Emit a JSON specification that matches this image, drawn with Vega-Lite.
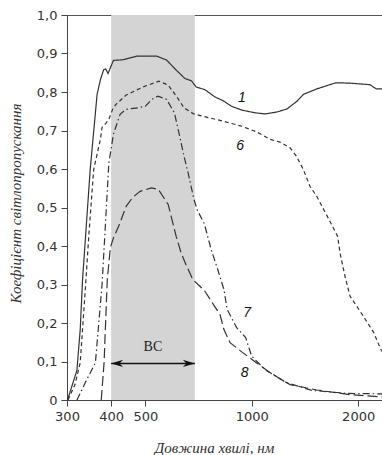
{
  "$schema": "https://vega.github.io/schema/vega-lite/v6.json",
  "autosize": {"type": "none"},
  "padding": {"left": 67, "top": 15, "right": 0, "bottom": 55},
  "width": 315,
  "height": 385,
  "background": "#ffffff",
  "config": {
    "view": {"stroke": "#555555", "strokeWidth": 1},
    "axis": {"grid": false, "labelOverlap": false, "labelFlush": false, "labelBound": false, "domainColor": "#444444", "tickColor": "#444444", "labelColor": "#333333", "labelFont": "DejaVu Sans", "labelFontSize": 13, "tickSize": 6, "titleFont": "Liberation Serif", "titleFontStyle": "italic", "titleFontWeight": "normal", "titleFontSize": 15, "titleColor": "#333333"}
  },
  "datasets": {
    "curves": [
      {"nm": 301, "t": 0.0, "curve": "1"},
      {"nm": 320, "t": 0.077, "curve": "1"},
      {"nm": 327, "t": 0.183, "curve": "1"},
      {"nm": 332, "t": 0.313, "curve": "1"},
      {"nm": 349, "t": 0.599, "curve": "1"},
      {"nm": 365, "t": 0.794, "curve": "1"},
      {"nm": 373, "t": 0.832, "curve": "1"},
      {"nm": 381, "t": 0.858, "curve": "1"},
      {"nm": 386, "t": 0.860, "curve": "1"},
      {"nm": 392, "t": 0.848, "curve": "1"},
      {"nm": 398, "t": 0.863, "curve": "1"},
      {"nm": 406, "t": 0.882, "curve": "1"},
      {"nm": 434, "t": 0.884, "curve": "1"},
      {"nm": 472, "t": 0.893, "curve": "1"},
      {"nm": 539, "t": 0.893, "curve": "1"},
      {"nm": 574, "t": 0.883, "curve": "1"},
      {"nm": 611, "t": 0.857, "curve": "1"},
      {"nm": 647, "t": 0.835, "curve": "1"},
      {"nm": 675, "t": 0.829, "curve": "1"},
      {"nm": 696, "t": 0.813, "curve": "1"},
      {"nm": 737, "t": 0.806, "curve": "1"},
      {"nm": 787, "t": 0.787, "curve": "1"},
      {"nm": 831, "t": 0.777, "curve": "1"},
      {"nm": 876, "t": 0.763, "curve": "1"},
      {"nm": 937, "t": 0.753, "curve": "1"},
      {"nm": 1021, "t": 0.746, "curve": "1"},
      {"nm": 1090, "t": 0.743, "curve": "1"},
      {"nm": 1178, "t": 0.748, "curve": "1"},
      {"nm": 1258, "t": 0.756, "curve": "1"},
      {"nm": 1342, "t": 0.776, "curve": "1"},
      {"nm": 1401, "t": 0.794, "curve": "1"},
      {"nm": 1527, "t": 0.808, "curve": "1"},
      {"nm": 1730, "t": 0.824, "curve": "1"},
      {"nm": 1896, "t": 0.823, "curve": "1"},
      {"nm": 2160, "t": 0.819, "curve": "1"},
      {"nm": 2250, "t": 0.808, "curve": "1"},
      {"nm": 2336, "t": 0.808, "curve": "1"},

      {"nm": 302, "t": 0.0, "curve": "6"},
      {"nm": 316, "t": 0.04, "curve": "6"},
      {"nm": 327, "t": 0.097, "curve": "6"},
      {"nm": 338, "t": 0.287, "curve": "6"},
      {"nm": 346, "t": 0.43, "curve": "6"},
      {"nm": 357, "t": 0.599, "curve": "6"},
      {"nm": 373, "t": 0.677, "curve": "6"},
      {"nm": 377, "t": 0.708, "curve": "6"},
      {"nm": 386, "t": 0.718, "curve": "6"},
      {"nm": 394, "t": 0.729, "curve": "6"},
      {"nm": 405, "t": 0.758, "curve": "6"},
      {"nm": 413, "t": 0.768, "curve": "6"},
      {"nm": 441, "t": 0.792, "curve": "6"},
      {"nm": 492, "t": 0.813, "curve": "6"},
      {"nm": 546, "t": 0.828, "curve": "6"},
      {"nm": 580, "t": 0.818, "curve": "6"},
      {"nm": 614, "t": 0.787, "curve": "6"},
      {"nm": 643, "t": 0.759, "curve": "6"},
      {"nm": 685, "t": 0.743, "curve": "6"},
      {"nm": 735, "t": 0.736, "curve": "6"},
      {"nm": 831, "t": 0.724, "curve": "6"},
      {"nm": 937, "t": 0.711, "curve": "6"},
      {"nm": 1034, "t": 0.696, "curve": "6"},
      {"nm": 1126, "t": 0.677, "curve": "6"},
      {"nm": 1202, "t": 0.670, "curve": "6"},
      {"nm": 1283, "t": 0.655, "curve": "6"},
      {"nm": 1338, "t": 0.633, "curve": "6"},
      {"nm": 1399, "t": 0.599, "curve": "6"},
      {"nm": 1461, "t": 0.555, "curve": "6"},
      {"nm": 1527, "t": 0.529, "curve": "6"},
      {"nm": 1636, "t": 0.477, "curve": "6"},
      {"nm": 1750, "t": 0.425, "curve": "6"},
      {"nm": 1777, "t": 0.382, "curve": "6"},
      {"nm": 1835, "t": 0.322, "curve": "6"},
      {"nm": 1896, "t": 0.270, "curve": "6"},
      {"nm": 2067, "t": 0.218, "curve": "6"},
      {"nm": 2214, "t": 0.175, "curve": "6"},
      {"nm": 2306, "t": 0.136, "curve": "6"},
      {"nm": 2336, "t": 0.126, "curve": "6"},

      {"nm": 320, "t": 0.0, "curve": "7"},
      {"nm": 340, "t": 0.05, "curve": "7"},
      {"nm": 361, "t": 0.097, "curve": "7"},
      {"nm": 377, "t": 0.30, "curve": "7"},
      {"nm": 394, "t": 0.615, "curve": "7"},
      {"nm": 406, "t": 0.690, "curve": "7"},
      {"nm": 413, "t": 0.711, "curve": "7"},
      {"nm": 424, "t": 0.742, "curve": "7"},
      {"nm": 441, "t": 0.755, "curve": "7"},
      {"nm": 476, "t": 0.759, "curve": "7"},
      {"nm": 500, "t": 0.763, "curve": "7"},
      {"nm": 522, "t": 0.781, "curve": "7"},
      {"nm": 542, "t": 0.789, "curve": "7"},
      {"nm": 574, "t": 0.781, "curve": "7"},
      {"nm": 604, "t": 0.746, "curve": "7"},
      {"nm": 622, "t": 0.694, "curve": "7"},
      {"nm": 643, "t": 0.633, "curve": "7"},
      {"nm": 662, "t": 0.586, "curve": "7"},
      {"nm": 686, "t": 0.521, "curve": "7"},
      {"nm": 702, "t": 0.492, "curve": "7"},
      {"nm": 734, "t": 0.458, "curve": "7"},
      {"nm": 768, "t": 0.390, "curve": "7"},
      {"nm": 801, "t": 0.339, "curve": "7"},
      {"nm": 834, "t": 0.287, "curve": "7"},
      {"nm": 852, "t": 0.235, "curve": "7"},
      {"nm": 906, "t": 0.188, "curve": "7"},
      {"nm": 961, "t": 0.162, "curve": "7"},
      {"nm": 999, "t": 0.114, "curve": "7"},
      {"nm": 1090, "t": 0.079, "curve": "7"},
      {"nm": 1253, "t": 0.045, "curve": "7"},
      {"nm": 1480, "t": 0.025, "curve": "7"},
      {"nm": 1862, "t": 0.017, "curve": "7"},
      {"nm": 2336, "t": 0.016, "curve": "7"},

      {"nm": 375, "t": 0.0, "curve": "8"},
      {"nm": 382, "t": 0.097, "curve": "8"},
      {"nm": 390, "t": 0.313, "curve": "8"},
      {"nm": 398, "t": 0.396, "curve": "8"},
      {"nm": 406, "t": 0.421, "curve": "8"},
      {"nm": 420, "t": 0.451, "curve": "8"},
      {"nm": 441, "t": 0.503, "curve": "8"},
      {"nm": 460, "t": 0.526, "curve": "8"},
      {"nm": 483, "t": 0.542, "curve": "8"},
      {"nm": 520, "t": 0.551, "curve": "8"},
      {"nm": 544, "t": 0.547, "curve": "8"},
      {"nm": 580, "t": 0.508, "curve": "8"},
      {"nm": 611, "t": 0.425, "curve": "8"},
      {"nm": 631, "t": 0.382, "curve": "8"},
      {"nm": 651, "t": 0.352, "curve": "8"},
      {"nm": 681, "t": 0.313, "curve": "8"},
      {"nm": 735, "t": 0.284, "curve": "8"},
      {"nm": 784, "t": 0.244, "curve": "8"},
      {"nm": 813, "t": 0.222, "curve": "8"},
      {"nm": 834, "t": 0.183, "curve": "8"},
      {"nm": 868, "t": 0.149, "curve": "8"},
      {"nm": 937, "t": 0.125, "curve": "8"},
      {"nm": 1030, "t": 0.097, "curve": "8"},
      {"nm": 1126, "t": 0.071, "curve": "8"},
      {"nm": 1283, "t": 0.040, "curve": "8"},
      {"nm": 1527, "t": 0.026, "curve": "8"},
      {"nm": 1896, "t": 0.014, "curve": "8"},
      {"nm": 2336, "t": 0.008, "curve": "8"}
    ]
  },
  "encoding": {
    "x": {"field": "nm", "type": "quantitative", "scale": {"type": "log", "domain": [300, 2336], "nice": false}, "axis": {"values": [300, 400, 500, 1000, 2000], "format": "d", "labelPadding": 4, "labelOverlap": false, "labelFlush": false, "title": "Довжина хвилі, нм", "titleX": 147, "titleY": 47, "titleBaseline": "middle", "titleAlign": "center"}},
    "y": {"field": "t", "type": "quantitative", "scale": {"domain": [0, 1], "nice": false}, "axis": {"values": [0, 0.1, 0.2, 0.3, 0.4, 0.5, 0.6, 0.7, 0.8, 0.9, 1.0], "labelExpr": "datum.value == 0 ? '0' : replace(format(datum.value, '.1f'), '.', ',')", "labelPadding": 4, "labelOverlap": false, "labelFlush": false, "labelBound": false, "labelSeparation": 0, "title": "Коефіцієнт світлопропускання", "titleX": -52, "titleY": 188, "titleAngle": 270, "titleBaseline": "middle", "titleAlign": "center"}}
  },
  "layer": [
    {
      "data": {"values": [{"nm": 400, "nm2": 690, "t": 0, "t2": 1}]},
      "mark": {"type": "rect", "color": "#d4d4d4"},
      "encoding": {
        "x2": {"field": "nm2"},
        "y2": {"field": "t2"}
      }
    },
    {
      "data": {"name": "curves"},
      "mark": {"type": "line", "color": "#333333", "strokeWidth": 1.2},
      "encoding": {
        "strokeDash": {"field": "curve", "type": "nominal", "scale": {"domain": ["1", "6", "7", "8"], "range": [[1, 0], [4, 3], [7, 3, 1.5, 3], [10, 4]]}, "legend": null},
        "detail": {"field": "curve"}
      }
    },
    {
      "data": {"values": [{"nm": 400, "nm2": 690, "t": 0.095}]},
      "mark": {"type": "rule", "color": "#111111", "strokeWidth": 1.5},
      "encoding": {
        "x2": {"field": "nm2"}
      }
    },
    {
      "data": {"values": [{"nm": 400, "t": 0.095, "dir": "L"}, {"nm": 690, "t": 0.095, "dir": "R"}]},
      "mark": {"type": "point", "filled": true, "color": "#111111", "opacity": 1, "size": 144},
      "encoding": {
        "shape": {"field": "dir", "type": "nominal", "scale": {"domain": ["L", "R"], "range": ["M0,0L2,-0.6L1.4,0L2,0.6Z", "M0,0L-2,-0.6L-1.4,0L-2,0.6Z"]}, "legend": null}
      }
    },
    {
      "data": {"values": [{"nm": 525, "t": 0.138, "label": "ВС"}]},
      "mark": {"type": "text", "font": "Liberation Serif", "fontSize": 14, "color": "#222222", "baseline": "middle", "align": "center"},
      "encoding": {
        "text": {"field": "label"}
      }
    },
    {
      "data": {"values": [
        {"nm": 937, "t": 0.785, "label": "1"},
        {"nm": 927, "t": 0.661, "label": "6"},
        {"nm": 970, "t": 0.226, "label": "7"},
        {"nm": 955, "t": 0.071, "label": "8"}
      ]},
      "mark": {"type": "text", "font": "Liberation Sans", "fontStyle": "italic", "fontSize": 14, "color": "#111111", "baseline": "middle", "align": "center"},
      "encoding": {
        "text": {"field": "label"}
      }
    }
  ]
}
